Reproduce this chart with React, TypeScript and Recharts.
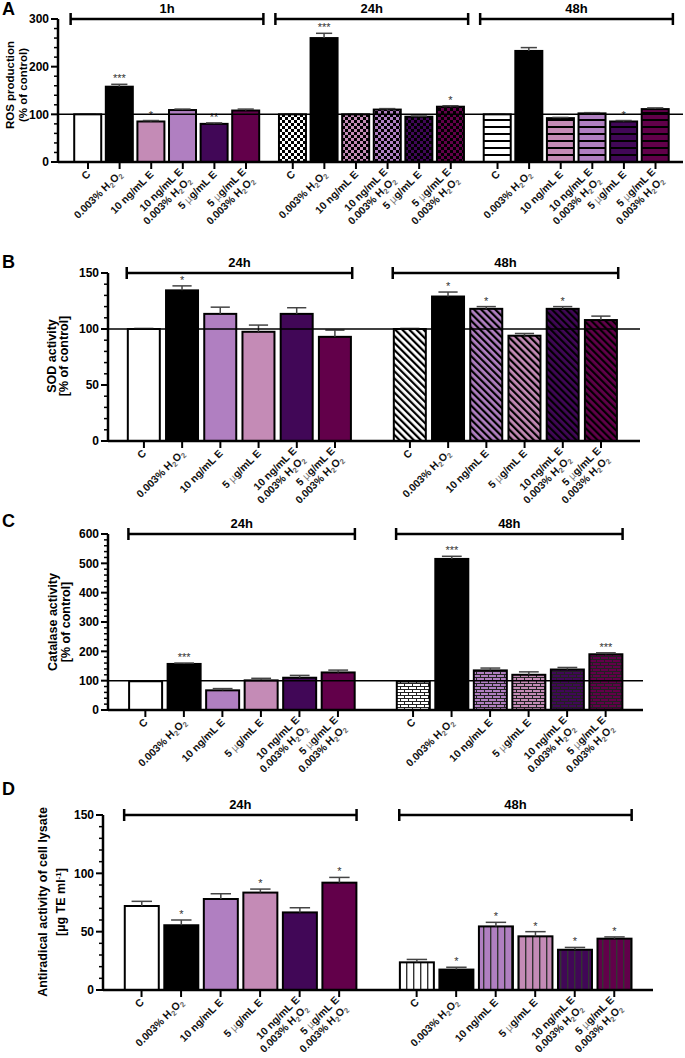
import React from "react";
import { Bar, BarChart, ReferenceLine, XAxis, YAxis } from "recharts";

// colours of the six treatments
const PALETTE: Record<string, string> = {
  white: "#ffffff",
  black: "#000000",
  lavender: "#b07fc1",
  pink: "#c48bb6",
  purple: "#410757",
  magenta: "#62004a",
};

const COLORS_A = ["white", "black", "pink", "lavender", "purple", "magenta"];
const COLORS_BCD = ["white", "black", "lavender", "pink", "purple", "magenta"];

// x tick labels
const LABELS_A = [
  ["C"],
  ["0.003% H2O2"],
  ["10 ng/mL E"],
  ["10 ng/mL E", "0.003% H2O2"],
  ["5 µg/mL E"],
  ["5 µg/mL E", "0.003% H2O2"],
];
const LABELS_BCD = [
  ["C"],
  ["0.003% H2O2"],
  ["10 ng/mL E"],
  ["5 µg/mL E"],
  ["10 ng/mL E", "0.003% H2O2"],
  ["5 µg/mL E", "0.003% H2O2"],
];

// A - ROS production
const ros1h = [100, 158, 85, 109, 80, 108];
const ros1hErr = [1, 5, 2, 2, 2, 3];
const ros1hSig = ["", "***", "*", "", "**", ""];
const ros24h = [100, 260, 100, 110, 95, 116];
const ros24hErr = [1, 10, 1, 2, 1.5, 2];
const ros24hSig = ["", "***", "", "", "", "*"];
const ros48h = [100, 233, 92, 102, 85, 111];
const ros48hErr = [1, 7, 1.5, 1.5, 2, 2.5];
const ros48hSig = ["", "", "", "", "*", ""];

// B - SOD activity
const sod24h = [100, 134.5, 113.5, 97.5, 113.5, 93];
const sod24hErr = [0.5, 4, 6, 6, 5.5, 6];
const sod24hSig = ["", "*", "", "", "", ""];
const sod48h = [100, 129, 118, 94, 118, 108];
const sod48hErr = [0.5, 4, 2, 2, 2, 3.5];
const sod48hSig = ["", "*", "*", "", "*", ""];

// C - catalase activity
const cat24h = [98, 157, 67, 101, 110, 128];
const cat24hErr = [0, 3, 6, 7, 8, 8];
const cat24hSig = ["", "***", "", "", "", ""];
const cat48h = [97, 515, 135, 120, 138, 190];
const cat48hErr = [0, 9, 8, 10, 7, 5];
const cat48hSig = ["", "***", "", "", "", "***"];

// D - antiradical activity
const anti24h = [72, 55.5, 78, 83.5, 66.5, 92];
const anti24hErr = [4, 4.5, 4.5, 3, 4, 4.5];
const anti24hSig = ["", "*", "", "*", "", "*"];
const anti48h = [23.7, 17.5, 54.5, 46, 34.5, 44];
const anti48hErr = [2.5, 2, 3.5, 4, 2, 1.5];
const anti48hSig = ["", "*", "*", "*", "*", "*"];

const FONT = '"Liberation Sans", Arial, sans-serif';

type Group = {
  label: string;
  values: number[];
  errs: number[];
  sig: string[];
  pattern: string;
};

type Row = {
  pos: number;
  value: number;
  err: number;
  star: string;
  fill: string;
  lines: string[];
};

function Patterns() {
  return (
    <svg width={0} height={0} style={{ position: "absolute" }}>
      <defs>
        {Object.entries(PALETTE).map(([k, c]) => (
          <React.Fragment key={k}>
            <pattern id={`checker-${k}`} width={6} height={6} patternUnits="userSpaceOnUse">
              <rect width={6} height={6} fill={c} />
              <rect width={3} height={3} fill="#000" />
              <rect x={3} y={3} width={3} height={3} fill="#000" />
            </pattern>
            <pattern id={`hstripe-${k}`} width={8} height={7} patternUnits="userSpaceOnUse">
              <rect width={8} height={7} fill={c} />
              <rect width={8} height={2} fill="#000" />
            </pattern>
            <pattern
              id={`diag-${k}`}
              width={5}
              height={5}
              patternUnits="userSpaceOnUse"
              patternTransform="rotate(-45)"
            >
              <rect width={5} height={5} fill={c} />
              <rect width={2.2} height={5} fill="#000" />
            </pattern>
            <pattern id={`brick-${k}`} width={8} height={6} patternUnits="userSpaceOnUse">
              <rect width={8} height={6} fill={c} />
              <rect width={8} height={1} fill="#222" />
              <rect y={3} width={8} height={1} fill="#222" />
              <rect width={1} height={3} fill="#222" />
              <rect x={4} y={3} width={1} height={3} fill="#222" />
            </pattern>
            <pattern id={`vstripe-${k}`} width={7} height={7} patternUnits="userSpaceOnUse">
              <rect width={7} height={7} fill={c} />
              <rect width={1.4} height={7} fill="#333" />
            </pattern>
          </React.Fragment>
        ))}
      </defs>
    </svg>
  );
}

function chem(s: string) {
  const parts = s.split(/(H2O2|µ)/);
  return parts.map((p, i) => {
    if (p === "H2O2")
      return (
        <React.Fragment key={i}>
          H
          <tspan fontSize={7.5} dy={2.5} fill="#666">2</tspan>
          <tspan dy={-2.5}>O</tspan>
          <tspan fontSize={7.5} dy={2.5} fill="#666">2</tspan>
        </React.Fragment>
      );
    if (p === "µ")
      return (
        <tspan key={i} fill="#777" fontWeight="normal">µ</tspan>
      );
    return <React.Fragment key={i}>{p}</React.Fragment>;
  });
}

function BarShape(props: any) {
  const { x, y, width, height, payload } = props;
  if (!payload || height == null || isNaN(height)) return null;
  const cx = x + width / 2;
  const perUnit = payload.value ? height / payload.value : 0;
  const top = y - payload.err * perUnit;
  const cap = width * 0.3;
  return (
    <g>
      <rect x={x} y={y} width={width} height={height} fill={payload.fill} stroke="#000" strokeWidth={2} />
      {payload.err > 0 && (
        <g stroke="#444" strokeWidth={1.5}>
          <line x1={cx} y1={y} x2={cx} y2={top} />
          <line x1={cx - cap} y1={top} x2={cx + cap} y2={top} />
        </g>
      )}
      {payload.star && (
        <text x={cx} y={top - 2} textAnchor="middle" fontSize={11} fill="#333" fontFamily={FONT}>
          {payload.star}
        </text>
      )}
    </g>
  );
}

function XTick(props: any) {
  const { x, y, payload, rows } = props;
  const row = rows.find((r: Row) => Math.abs(r.pos - payload.value) < 1e-6);
  const lines: string[] = row ? row.lines : [];
  return (
    <g>
      <line x1={x} y1={y} x2={x} y2={y + 7} stroke="#000" strokeWidth={2} />
      <g transform={`translate(${x + 3},${y + 13}) rotate(-45)`}>
        {lines.map((ln, k) => (
          <text
            key={k}
            x={0}
            y={(k - (lines.length - 1) * 0.3) * 12}
            textAnchor="end"
            fontSize={10.5}
            fontWeight="bold"
            fill="#111"
            fontFamily={FONT}
          >
            {chem(ln)}
          </text>
        ))}
      </g>
    </g>
  );
}

function YTick(props: any) {
  const { x, y, payload, majorStep } = props;
  const v = payload.value;
  const major = v % majorStep === 0;
  return (
    <g>
      <line x1={x - (major ? 7 : 4)} y1={y} x2={x} y2={y} stroke="#000" strokeWidth={major ? 2 : 1.5} />
      {major && (
        <text x={x - 9} y={y} dy="0.35em" textAnchor="end" fontSize={12} fontWeight="bold" fill="#000" fontFamily={FONT}>
          {v}
        </text>
      )}
    </g>
  );
}

type PanelProps = {
  top: number;
  height: number;
  axisX: number;
  plotTop: number;
  plotBottom: number;
  rightX: number;
  yMax: number;
  majorStep: number;
  minorStep: number;
  groups: Group[];
  colors: string[];
  labels: string[][];
  gap: number;
  barSize: number;
  xMin: number;
  xMax: number;
  bracketPad: number;
  refLine: boolean;
};

function Panel(p: PanelProps) {
  const rows: Row[] = [];
  p.groups.forEach((g, gi) => {
    g.values.forEach((v, i) => {
      const key = p.colors[i];
      rows.push({
        pos: gi * (6 + p.gap) + i,
        value: v,
        err: g.errs[i],
        star: g.sig[i],
        fill: g.pattern === "solid" || key === "black" ? PALETTE[key] : `url(#${g.pattern}-${key})`,
        lines: p.labels[i],
      });
    });
  });
  const yTicks: number[] = [];
  for (let t = 0; t <= p.yMax + 1e-9; t += p.minorStep) yTicks.push(Math.round(t * 100) / 100);
  const plotH = p.plotBottom - p.plotTop;
  const capD = (6 * p.yMax) / plotH;

  return (
    <div style={{ position: "absolute", left: 0, top: p.top }}>
      <BarChart
        width={685}
        height={p.height}
        data={rows}
        margin={{ top: p.plotTop - p.top, right: 685 - p.rightX, bottom: 0, left: 0 }}
      >
        <XAxis
          type="number"
          dataKey="pos"
          domain={[p.xMin, p.xMax]}
          allowDataOverflow
          ticks={rows.map((r) => r.pos)}
          interval={0}
          tickSize={0}
          tickMargin={0}
          tickLine={false}
          height={p.top + p.height - p.plotBottom}
          axisLine={{ stroke: "#000", strokeWidth: 2.5 }}
          tick={(tp: any) => <XTick {...tp} rows={rows} />}
        />
        <YAxis
          type="number"
          domain={[0, p.yMax]}
          allowDataOverflow
          ticks={yTicks}
          interval={0}
          width={p.axisX}
          tickSize={0}
          tickMargin={0}
          tickLine={false}
          axisLine={{ stroke: "#000", strokeWidth: 2.5 }}
          tick={(tp: any) => <YTick {...tp} majorStep={p.majorStep} />}
        />
        {p.refLine && <ReferenceLine y={100} stroke="#000" strokeWidth={1.5} />}
        {p.groups.map((g, gi) => {
          const start = gi * (6 + p.gap) - p.bracketPad;
          const end = gi * (6 + p.gap) + 5 + p.bracketPad;
          return [
            <ReferenceLine
              key={`h${gi}`}
              segment={[
                { x: start, y: p.yMax },
                { x: end, y: p.yMax },
              ]}
              stroke="#000"
              strokeWidth={2.5}
              ifOverflow="visible"
              label={{
                value: g.label,
                position: "top",
                offset: 6,
                fontSize: 13,
                fontWeight: "bold",
                fill: "#000",
                fontFamily: FONT,
              }}
            />,
            <ReferenceLine
              key={`l${gi}`}
              segment={[
                { x: start, y: p.yMax - capD },
                { x: start, y: p.yMax + capD },
              ]}
              stroke="#000"
              strokeWidth={2.5}
              ifOverflow="visible"
            />,
            <ReferenceLine
              key={`r${gi}`}
              segment={[
                { x: end, y: p.yMax - capD },
                { x: end, y: p.yMax + capD },
              ]}
              stroke="#000"
              strokeWidth={2.5}
              ifOverflow="visible"
            />,
          ];
        })}
        <Bar dataKey="value" barSize={p.barSize} isAnimationActive={false} shape={BarShape} />
      </BarChart>
    </div>
  );
}

function Title({ x1, x2, cy, lines, size }: { x1: number; x2: number; cy: number; lines: React.ReactNode[]; size: number }) {
  return (
    <>
      {lines.map((ln, i) => (
        <text
          key={i}
          transform={`translate(${i === 0 ? x1 : x2},${cy}) rotate(-90)`}
          textAnchor="middle"
          fontSize={size}
          fontWeight="bold"
          fill="#000"
        >
          {ln}
        </text>
      ))}
    </>
  );
}

export default function App() {
  return (
    <div
      style={{
        position: "absolute",
        left: 0,
        top: 0,
        width: 685,
        height: 1058,
        background: "#fff",
        fontFamily: FONT,
        overflow: "hidden",
      }}
    >
      <Patterns />
      <Panel
        top={0}
        height={250}
        axisX={58}
        plotTop={19}
        plotBottom={162}
        rightX={683}
        yMax={300}
        majorStep={100}
        minorStep={20}
        groups={[
          { label: "1h", values: ros1h, errs: ros1hErr, sig: ros1hSig, pattern: "solid" },
          { label: "24h", values: ros24h, errs: ros24hErr, sig: ros24hSig, pattern: "checker" },
          { label: "48h", values: ros48h, errs: ros48hErr, sig: ros48hSig, pattern: "hstripe" },
        ]}
        colors={COLORS_A}
        labels={LABELS_A}
        gap={0.48}
        barSize={27}
        xMin={-0.95}
        xMax={18.83}
        bracketPad={0.55}
        refLine
      />
      <Panel
        top={240}
        height={290}
        axisX={108}
        plotTop={273}
        plotBottom={441}
        rightX={640}
        yMax={150}
        majorStep={50}
        minorStep={10}
        groups={[
          { label: "24h", values: sod24h, errs: sod24hErr, sig: sod24hSig, pattern: "solid" },
          { label: "48h", values: sod48h, errs: sod48hErr, sig: sod48hSig, pattern: "diag" },
        ]}
        colors={COLORS_BCD}
        labels={LABELS_BCD}
        gap={0.96}
        barSize={32}
        xMin={-0.94}
        xMax={12.98}
        bracketPad={0.45}
        refLine
      />
      <Panel
        top={500}
        height={295}
        axisX={108}
        plotTop={534}
        plotBottom={710}
        rightX={643}
        yMax={600}
        majorStep={100}
        minorStep={20}
        groups={[
          { label: "24h", values: cat24h, errs: cat24hErr, sig: cat24hSig, pattern: "solid" },
          { label: "48h", values: cat48h, errs: cat48hErr, sig: cat48hSig, pattern: "brick" },
        ]}
        colors={COLORS_BCD}
        labels={LABELS_BCD}
        gap={0.95}
        barSize={33}
        xMin={-0.97}
        xMax={12.92}
        bracketPad={0.44}
        refLine
      />
      <Panel
        top={790}
        height={268}
        axisX={103}
        plotTop={815}
        plotBottom={990}
        rightX={653}
        yMax={150}
        majorStep={50}
        minorStep={10}
        groups={[
          { label: "24h", values: anti24h, errs: anti24hErr, sig: anti24hSig, pattern: "solid" },
          { label: "48h", values: anti48h, errs: anti48hErr, sig: anti48hSig, pattern: "vstripe" },
        ]}
        colors={COLORS_BCD}
        labels={LABELS_BCD}
        gap={0.96}
        barSize={34}
        xMin={-0.975}
        xMax={12.94}
        bracketPad={0.44}
        refLine={false}
      />
      <svg
        width={685}
        height={1058}
        style={{ position: "absolute", left: 0, top: 0, pointerEvents: "none" }}
        fontFamily={FONT}
      >
        <text x={2} y={15} fontSize={18} fontWeight="bold">A</text>
        <text x={2} y={268} fontSize={18} fontWeight="bold">B</text>
        <text x={2} y={527} fontSize={18} fontWeight="bold">C</text>
        <text x={2} y={795} fontSize={18} fontWeight="bold">D</text>
        <Title x1={14} x2={27} cy={85} size={11.5} lines={["ROS production", "(% of control)"]} />
        <Title x1={56} x2={68} cy={356} size={12.5} lines={["SOD activity", "[% of control]"]} />
        <Title x1={57} x2={70} cy={622} size={12.5} lines={["Catalase activity", "[% of control]"]} />
        <Title
          x1={47}
          x2={65}
          cy={902}
          size={12.5}
          lines={[
            "Antiradical activity of cell lysate",
            <>
              [µg TE ml
              <tspan fontSize={8} dy={-4}>-1</tspan>
              <tspan dy={4}>]</tspan>
            </>,
          ]}
        />
      </svg>
    </div>
  );
}
